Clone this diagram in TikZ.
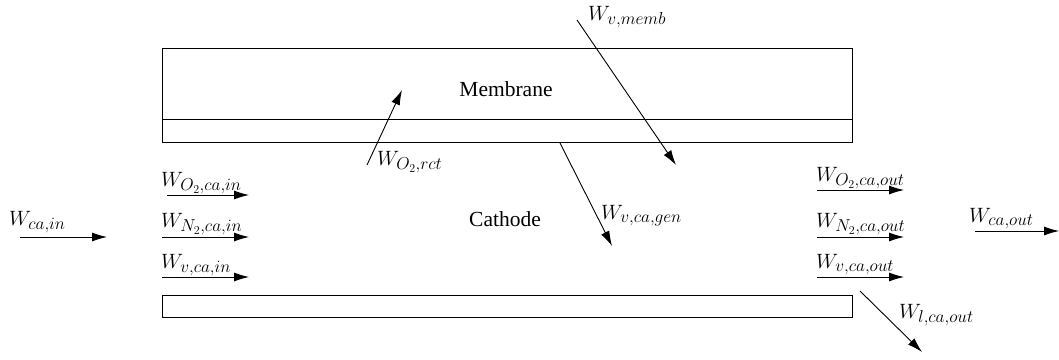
\documentclass[tikz,border=0pt]{standalone}
\usepackage{fontspec}
\setmainfont{Liberation Serif}
\DeclareMathSizes{22}{22}{16}{12}
\usetikzlibrary{arrows.meta}
\begin{document}
\begin{tikzpicture}[x=1pt,y=-1pt,
  flow/.style={line width=0.9pt,-{Latex[length=15pt,width=9pt]}},
  box/.style={draw,line width=0.9pt},
  lbl/.style={inner sep=0pt,anchor=base west,font=\fontsize{22}{26}\selectfont},
  title/.style={inner sep=0pt,anchor=base,font=\rmfamily\fontsize{21.5}{25}\selectfont}]
\useasboundingbox (0,0) rectangle (1059,359);
% membrane and cathode layers
\draw[box] (162,48) rectangle (852,142);
\draw[box] (162,119) -- (852,119);
\draw[box] (162,295) rectangle (852,317);
\node[title] (memb) at (506,96) {Membrane};
\node[title] (cath) at (505,226) {Cathode};
% inlet
\coordinate (cin1) at (20,237); \coordinate (cin2) at (107,237);
\draw[flow] (cin1) -- (cin2);
\node[lbl] (lcin) at (9,225) {$W_{ca,in}$};
\coordinate (o2a) at (167,195); \coordinate (o2b) at (249,195);
\draw[flow] (o2a) -- (o2b);
\node[lbl] (lo2in) at (161,186) {$W_{O_2,ca,in}$};
\coordinate (n2a) at (162,237); \coordinate (n2b) at (249,237);
\draw[flow] (n2a) -- (n2b);
\node[lbl] (ln2in) at (161,227) {$W_{N_2,ca,in}$};
\coordinate (va) at (162,277); \coordinate (vb) at (249,277);
\draw[flow] (va) -- (vb);
\node[lbl] (lvin) at (161,268) {$W_{v,ca,in}$};
% outlet
\coordinate (o2c) at (817,190); \coordinate (o2d) at (904,190);
\draw[flow] (o2c) -- (o2d);
\node[lbl] (lo2out) at (816,181) {$W_{O_2,ca,out}$};
\coordinate (n2c) at (817,237); \coordinate (n2d) at (904,237);
\draw[flow] (n2c) -- (n2d);
\node[lbl] (ln2out) at (816,227) {$W_{N_2,ca,out}$};
\coordinate (vc) at (817,277); \coordinate (vd) at (904,277);
\draw[flow] (vc) -- (vd);
\node[lbl] (lvout) at (816,268) {$W_{v,ca,out}$};
\coordinate (cout1) at (975,231); \coordinate (cout2) at (1059,231);
\draw[flow] (cout1) -- (cout2);
\node[lbl] (lcout) at (969,222) {$W_{ca,out}$};
\coordinate (la) at (860,291); \coordinate (lb) at (922,352);
\draw[flow] (la) -- (lb);
\node[lbl] (llout) at (899,318) {$W_{l,ca,out}$};
% cross-layer flows
\coordinate (vm1) at (577,20); \coordinate (vm2) at (676,165);
\draw[flow] (vm1) -- (vm2);
\node[lbl] (lvm) at (588,20) {$W_{v,memb}$};
\coordinate (r1) at (367,165); \coordinate (r2) at (402,90);
\draw[flow] (r1) -- (r2);
\node[lbl] (lr) at (377,165) {$W_{O_2,rct}$};
\coordinate (g1) at (560,143); \coordinate (g2) at (612,246);
\draw[flow] (g1) -- (g2);
\node[lbl] (lg) at (601,219) {$W_{v,ca,gen}$};
\end{tikzpicture}
\end{document}
